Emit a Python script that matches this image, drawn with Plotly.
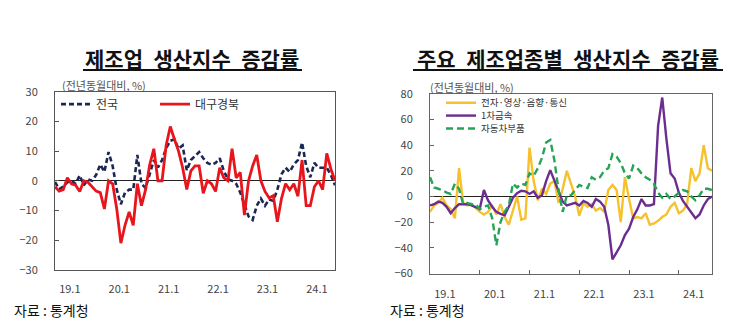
import plotly.graph_objects as go

W, H = 745, 331

# Month index 0 = 2019.01
months = list(range(69))
tick_labels = ["19.1", "20.1", "21.1", "22.1", "23.1", "24.1"]

# Left chart: 제조업 생산지수 증감률 (%)
national = [-0.4, -2.8, -2, -0.5, 0, -1, 1.8, -1.5, 0.5, 0, 2, 5.5, 3, 9.7, 5, -3, -7.9, -4, -3, -3,
            8.7, -1, -2.5, 2, 7, 4.5, 7, 11, 13.5, 14, 10.8, 11.9, 3.5, 7, 8.5, 9.7, 7.6, 6, 5.4, 6,
            7.6, 3.3, 0.5, 0, -1, -4, -8, -12, -13.2, -8.4, -6, -8.4, -6.3, -6.8, -3, 2.2, 4.4, 3, 5.5, 7,
            12.9, 5, 1.2, 6, 4.4, 4.4, 4.4, 2, -1.5]
daegu = [-2, -3.5, -3, 1, -1, -1.5, -3.6, 0, -0.5, -2, -3.5, -4, -9.5, 0, -1, -9.5, -21, -15, -10.5, -15,
         -1, -8.4, -3, 5.4, 10.8, 0, 0, 12, 18.3, 14, 10, 4.4, -2.9, 3.3, 5, 5, -4.2, 0, -1, -3.6,
         4.4, 1, 0, 10.8, 1, 2.8, -11.6, 0, 5, 8.7, 0, -3.6, -5.8, -5, -13.8, -6, -1, -3, -1, -5.2,
         7, -8.4, -8.4, -2, 0, -3, 9.2, 4, 0]

# Right chart: 주요 제조업종별 생산지수 증감률 (%)
electronics = [-12, -7, -5, -1, -7, -10, -17, 22, -5, -7, -6, -9, -12, -14, -12, -7, -14, -6, -16, -22,
               -10, 0, -18, -17, 38, 12, -3, 6, 2, 10, 12, -5, 6, 20, 10, 0, -15, -5, -8, -6,
               -11, -9, -12, 5, 9, 5, -20, 15, -2, -17, -16, -17, -13, -22, -21, -19, -16, -14, -8, -5,
               -13, -11, -6, 22, 12, 18, 40, 22, 20]
metals = [-7, -6, -4, -5, -8, -13, -9, -6, -6, -6, -7, -8, -9.6, 5, -3, -8, -12, -13.5, -14.6, -8,
          -1, 2.5, 4.5, 4, 2, 4, -1, 1, 12, 20.5, 12, 3, -4, -7, -6, -5, -7, -3.5, -5, -8,
          -2, -4, -8, -22, -49, -44, -38, -30, -25, -16, -10, -2, -7, -7, -6, 55, 77, 45, 18, 14,
          3, -3.5, -8, -13, -17, -14, -7, -2, 0]
autoparts = [15, 7, 6, 5, 3, 2, 10, 6, -6, -5, -6, -6, -10, -8, -7, -17, -38, -20, -12, -7,
             10, 7, 10, 9, 18, 16, 22, 30, 42, 44, 28, 5, -12, 1, 1, 5, 9, 7.5, 6.5, 15,
             13, 15, 20, 22, 33, 31, 26, 18, 14, 24, 22, 18, 15, 13, 10, 3, -1, 2, -2, 0,
             3, 5, 4, 0, -3, 1, 6, 6, 5]

FONT = "Noto Sans CJK KR"


def px(x):
    return x / W


def py(y):
    return 1 - y / H


fig = go.Figure()

fig.add_trace(go.Scatter(x=months, y=national, name="전국", mode="lines",
                         line=dict(color="#1c2754", width=2.6, dash="5px,3px"),
                         xaxis="x", yaxis="y", legend="legend"))
fig.add_trace(go.Scatter(x=months, y=daegu, name="대구경북", mode="lines",
                         line=dict(color="#e8161c", width=2.8),
                         xaxis="x", yaxis="y", legend="legend2"))
fig.add_trace(go.Scatter(x=months, y=electronics, name="전자·영상·음향·통신", mode="lines",
                         line=dict(color="#f6c12c", width=2.4),
                         xaxis="x2", yaxis="y2", legend="legend3"))
fig.add_trace(go.Scatter(x=months, y=metals, name="1차금속", mode="lines",
                         line=dict(color="#6b2d8f", width=2.4),
                         xaxis="x2", yaxis="y2", legend="legend4"))
fig.add_trace(go.Scatter(x=months, y=autoparts, name="자동차부품", mode="lines",
                         line=dict(color="#25a455", width=2.4, dash="7px,4px"),
                         xaxis="x2", yaxis="y2", legend="legend5"))

tickvals = [3.6 + 12 * k for k in range(len(tick_labels))]

common_x = dict(range=[0, 68], showgrid=False, zeroline=False, showline=True, mirror=True,
                linewidth=1, tickmode="array", tickvals=tickvals, ticktext=tick_labels,
                ticks="", tickfont=dict(family=FONT, size=11, color="#444"), fixedrange=True)
common_y = dict(showgrid=False, zeroline=True, zerolinecolor="#222", zerolinewidth=1,
                showline=True, mirror=True, linewidth=1, ticks="inside", ticklen=4,
                tickfont=dict(family=FONT, size=11, color="#444"), ticklabelstandoff=14,
                fixedrange=True)

leg_common = dict(bgcolor="rgba(0,0,0,0)", font=dict(family=FONT, size=12, color="#333"),
                  xanchor="left", yanchor="middle", orientation="v")
leg_small = {**leg_common, "font": dict(family=FONT, size=9.5, color="#333")}

fig.update_layout(
    width=W, height=H,
    margin=dict(l=0, r=0, t=0, b=0),
    paper_bgcolor="white", plot_bgcolor="white",
    font=dict(family=FONT),
    xaxis=dict(domain=[px(55), px(335)], anchor="y", linecolor="#555", ticklabelstandoff=9,
               **common_x),
    yaxis=dict(domain=[py(274), py(87)], anchor="x", range=[-30, 30], dtick=10,
               linecolor="#555", tickcolor="#555", **common_y),
    xaxis2=dict(domain=[px(430), px(712)], anchor="y2", linecolor="#666", ticklabelstandoff=10,
                minor=dict(tickmode="array", tickvals=[12, 24, 36, 48, 60], ticks="inside",
                           ticklen=4, tickcolor="#666"),
                **common_x),
    yaxis2=dict(domain=[py(278), py(89)], anchor="x2", range=[-60, 80], dtick=20,
                linecolor="#666", tickcolor="#666", **common_y),
    showlegend=True,
    legend=dict(x=px(56), y=py(100), **leg_common),
    legend2=dict(x=px(155), y=py(100), **leg_common),
    legend3=dict(x=px(441), y=py(98.5), **leg_small),
    legend4=dict(x=px(441), y=py(112), **leg_small),
    legend5=dict(x=px(441), y=py(125.5), **leg_small),
)

annotations = [
    dict(text="<b>제조업\u2002생산지수\u2002증감률</b>", x=px(192), y=py(51), font=dict(size=21, color="#111")),
    dict(text="<b>주요\u2002제조업종별\u2002생산지수\u2002증감률</b>", x=px(568), y=py(51), font=dict(size=21, color="#111")),
    dict(text="(전년동월대비, %)", x=px(60), y=py(80), xanchor="left", font=dict(size=11, color="#555")),
    dict(text="(전년동월대비, %)", x=px(428), y=py(82), xanchor="left", font=dict(size=11, color="#555")),
    dict(text="자료 : 통계청", x=px(12), y=py(316), xanchor="left", font=dict(size=14, color="#111")),
    dict(text="자료 : 통계청", x=px(388), y=py(316), xanchor="left", font=dict(size=14, color="#111")),
]
for a in annotations:
    a.setdefault("xanchor", "center")
    a["font"]["family"] = FONT
    fig.add_annotation(xref="paper", yref="paper", showarrow=False, yanchor="middle", **a)

# Title underlines
fig.add_shape(type="line", xref="paper", yref="paper", x0=px(83), x1=px(302), y0=py(64), y1=py(64),
              line=dict(color="#111", width=2))
fig.add_shape(type="line", xref="paper", yref="paper", x0=px(413), x1=px(723), y0=py(64), y1=py(64),
              line=dict(color="#111", width=2))

fig.write_html("out.html")
